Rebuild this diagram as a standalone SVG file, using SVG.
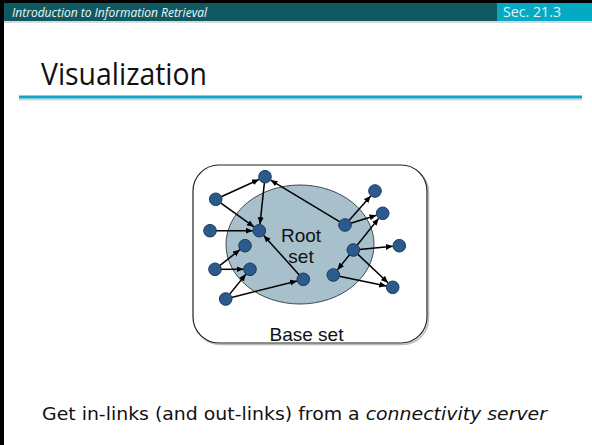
<svg xmlns="http://www.w3.org/2000/svg" width="592" height="445" viewBox="0 0 592 445">
<style>
.node{fill:#2b5b8d;stroke:#1a3a5e;stroke-width:1}
.edge{stroke:#000;stroke-width:1.5;fill:none;marker-end:url(#ah)}
.lbl{font-family:"Liberation Sans",Arial,sans-serif;font-size:19px;fill:#111;text-anchor:middle}
</style>
<defs>
<marker id="ah" markerUnits="userSpaceOnUse" markerWidth="8" markerHeight="7" refX="7" refY="3" orient="auto">
<path d="M0,0 L7,3 L0,6 z" fill="#000"/>
</marker>
</defs>
<rect x="0" y="0" width="592" height="445" fill="#fff"/>
<!-- header -->
<rect x="0" y="0" width="592" height="3" fill="#000"/>
<rect x="0" y="0" width="4" height="445" fill="#000"/>
<rect x="4" y="21" width="588" height="2" fill="#d8d8d8"/>
<rect x="4" y="3" width="588" height="18" fill="#0f5a62"/>
<rect x="497" y="3" width="95" height="18" fill="#05a9c4"/>
<text x="12" y="16.5" font-family="'Open Sans','DejaVu Sans',sans-serif" font-style="italic" font-size="12" fill="#f2f7f7" textLength="195" lengthAdjust="spacingAndGlyphs">Introduction to Information Retrieval</text>
<text x="503" y="16.5" font-family="'Open Sans','DejaVu Sans',sans-serif" font-size="14" fill="#e4f4f6" textLength="58" lengthAdjust="spacingAndGlyphs">Sec. 21.3</text>
<!-- title -->
<text x="41" y="85" font-family="'Open Sans','DejaVu Sans',sans-serif" font-size="31" fill="#111" textLength="166" lengthAdjust="spacingAndGlyphs">Visualization</text>
<line x1="19" y1="99.5" x2="582" y2="99.5" stroke="#d6d6d6" stroke-width="2"/>
<line x1="19" y1="97" x2="582" y2="97" stroke="#12a7c2" stroke-width="3"/>
<!-- base set -->
<g id="baseset">
<rect x="194.5" y="166.5" width="234" height="178" rx="26" fill="none" stroke="#bbb" stroke-width="1.5"/>
<rect x="193" y="165" width="234" height="178" rx="26" fill="#fff" stroke="#222" stroke-width="1.2"/>
<text class="lbl" x="306.5" y="340.5">Base set</text>
</g>
<g id="rootset">
<ellipse cx="300" cy="244.5" rx="74" ry="59.5" fill="#a8bfcc" stroke="#3a4a55" stroke-width="1"/>
<text class="lbl" x="301" y="241.5">Root</text>
<text class="lbl" x="301" y="262.5">set</text>
</g>
<!-- connectors -->
<g id="connectors">
<line class="edge" x1="221.2" y1="196.8" x2="259.1" y2="179.4"/>
<line class="edge" x1="220.6" y1="202.8" x2="254.0" y2="226.9"/>
<line class="edge" x1="264.4" y1="182.7" x2="260.0" y2="224.2"/>
<line class="edge" x1="216" y1="230.7" x2="252.8" y2="230.7"/>
<line class="edge" x1="339.9" y1="221.9" x2="270.6" y2="180.1"/>
<line class="edge" x1="299.3" y1="274.9" x2="263.7" y2="235.5"/>
<line class="edge" x1="219.7" y1="265.6" x2="239.9" y2="249.7"/>
<line class="edge" x1="221" y1="269.3" x2="243.5" y2="269.3"/>
<line class="edge" x1="229.5" y1="294.4" x2="245.9" y2="274.3"/>
<line class="edge" x1="231.5" y1="297.5" x2="297.0" y2="280.9"/>
<line class="edge" x1="349.0" y1="220.5" x2="370.7" y2="195.9"/>
<line class="edge" x1="350.7" y1="223.2" x2="376.5" y2="215.2"/>
<line class="edge" x1="357.1" y1="245.3" x2="378.6" y2="218.4"/>
<line class="edge" x1="359.3" y1="249.4" x2="392.8" y2="246.3"/>
<line class="edge" x1="349.5" y1="254.7" x2="337.4" y2="269.9"/>
<line class="edge" x1="357.7" y1="254.1" x2="388.0" y2="282.8"/>
<line class="edge" x1="339.2" y1="276.2" x2="386.3" y2="286.0"/>
</g>
<!-- nodes -->
<g id="n1"><circle class="node" cx="265" cy="176.7" r="6.3"/></g>
<g id="n2"><circle class="node" cx="215.7" cy="199.3" r="6.3"/></g>
<g id="n3"><circle class="node" cx="210" cy="230.7" r="6.3"/></g>
<g id="n4"><circle class="node" cx="259.3" cy="230.7" r="6.3"/></g>
<g id="n5"><circle class="node" cx="245" cy="245.7" r="6.3"/></g>
<g id="n6"><circle class="node" cx="215" cy="269.3" r="6.3"/></g>
<g id="n7"><circle class="node" cx="250" cy="269.3" r="6.3"/></g>
<g id="n8"><circle class="node" cx="225.7" cy="299" r="6.3"/></g>
<g id="n9"><circle class="node" cx="303.3" cy="279.3" r="6.3"/></g>
<g id="n10"><circle class="node" cx="345" cy="225" r="6.3"/></g>
<g id="n11"><circle class="node" cx="375" cy="191" r="6.3"/></g>
<g id="n12"><circle class="node" cx="382.7" cy="213.3" r="6.3"/></g>
<g id="n13"><circle class="node" cx="353.3" cy="250" r="6.3"/></g>
<g id="n14"><circle class="node" cx="399.3" cy="245.7" r="6.3"/></g>
<g id="n15"><circle class="node" cx="333.3" cy="275" r="6.3"/></g>
<g id="n16"><circle class="node" cx="392.7" cy="287.3" r="6.3"/></g>
<!-- footer text -->
<text x="42" y="420" font-family="'DejaVu Sans','Noto Sans',sans-serif" font-size="17" fill="#111" textLength="505" lengthAdjust="spacingAndGlyphs">Get in-links (and out-links) from a <tspan font-style="italic">connectivity server</tspan></text>
</svg>
